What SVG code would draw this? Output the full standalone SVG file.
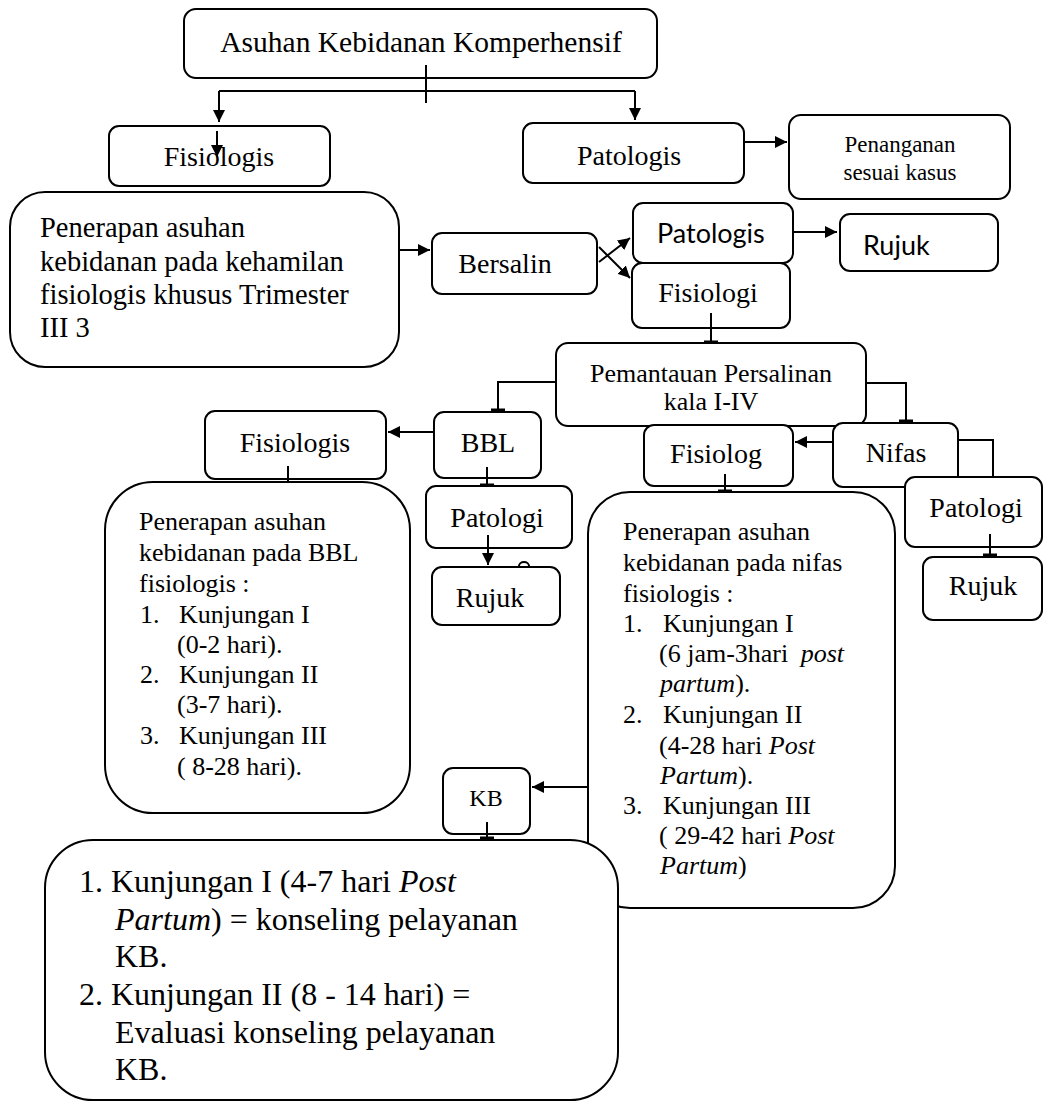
<svg xmlns="http://www.w3.org/2000/svg" width="1044" height="1102" viewBox="0 0 1044 1102">
<style>
.box{fill:#fff;stroke:#000;stroke-width:2}
.t{font-family:"Liberation Serif","Times New Roman",serif;fill:#000}
.s{font-family:Lato,"Liberation Sans",sans-serif;fill:#000}
.m{text-anchor:middle}
.c{fill:none;stroke:#000;stroke-width:2}
.i{font-style:italic}
.f28{font-size:28px}
.f26{font-size:26px}
.f32{font-size:32px}
</style>
<defs>
<marker id="arr" markerUnits="userSpaceOnUse" viewBox="0 0 12 12" markerWidth="12" markerHeight="12" refX="12" refY="6" orient="auto"><path d="M0 0 L12 6 L0 12 z" fill="#000"/></marker>
<marker id="tee" markerUnits="userSpaceOnUse" viewBox="-8 -8 16 16" markerWidth="16" markerHeight="16" refX="0" refY="0" orient="auto"><path d="M-1 -7 L-1 7" stroke="#000" stroke-width="3"/></marker>
</defs>

<g id="n-title"><rect class="box" x="184" y="9" width="473" height="69" rx="12"/><text class="t m" style="font-size:29.5px" x="421" y="52">Asuhan Kebidanan Komperhensif</text></g>
<g id="n-fisiologis"><rect class="box" x="109" y="126" width="221" height="60" rx="10"/><text class="t m f28" x="219" y="166">Fisiologis</text></g>
<g id="n-patologis"><rect class="box" x="523" y="123" width="221" height="60" rx="10"/><text class="t m f28" x="629" y="165">Patologis</text></g>
<g id="n-penanganan"><rect class="box" x="789" y="115" width="221" height="84" rx="12"/><text class="t m" style="font-size:23px" x="900" y="152">Penanganan</text><text class="t m" style="font-size:23px" x="900" y="180">sesuai kasus</text></g>
<g id="n-kehamilan"><rect class="box" x="10" y="192" width="389" height="175" rx="35"/>
<text class="t" style="font-size:28.5px" x="40" y="237">Penerapan asuhan</text>
<text class="t" style="font-size:28.5px" x="40" y="271">kebidanan pada kehamilan</text>
<text class="t" style="font-size:28.5px" x="40" y="304">fisiologis khusus Trimester</text>
<text class="t" style="font-size:28.5px" x="40" y="337">III 3</text></g>
<g id="n-bersalin"><rect class="box" x="432" y="233" width="165" height="61" rx="10"/><text class="t m f28" x="505" y="273">Bersalin</text></g>
<g id="n-patologis2"><rect class="box" x="633" y="203" width="160" height="60" rx="10"/><text class="s" style="font-size:27px" x="657" y="243">Patologis</text></g>
<g id="n-rujuk1"><rect class="box" x="840" y="214" width="158" height="57" rx="10"/><text class="s" style="font-size:27px" x="863" y="255">Rujuk</text></g>
<g id="n-fisiologi"><rect class="box" x="632" y="263" width="158" height="65" rx="10"/><text class="t m f28" x="708" y="302">Fisiologi</text></g>
<g id="n-pemantauan"><rect class="box" x="556" y="343" width="310" height="83" rx="12"/><text class="t m f26" x="711" y="382">Pemantauan Persalinan</text><text class="t m f26" x="711" y="410">kala I-IV</text></g>
<g id="n-bbl-fisiologis"><rect class="box" x="205" y="411" width="181" height="68" rx="10"/><text class="t m f28" x="295" y="452">Fisiologis</text></g>
<g id="n-bbl"><rect class="box" x="434" y="412" width="107" height="66" rx="10"/><text class="t m f28" x="488" y="452">BBL</text></g>
<g id="n-bbl-text"><rect class="box" x="105" y="482" width="305" height="331" rx="48"/>
<text class="t f26" x="139" y="530">Penerapan asuhan</text>
<text class="t f26" x="139" y="561">kebidanan pada BBL</text>
<text class="t f26" x="139" y="592">fisiologis :</text>
<text class="t f26" x="140" y="623">1.</text><text class="t f26" x="179" y="623">Kunjungan I</text>
<text class="t f26" x="177" y="653">(0-2 hari).</text>
<text class="t f26" x="140" y="683">2.</text><text class="t f26" x="179" y="683">Kunjungan II</text>
<text class="t f26" x="177" y="713">(3-7 hari).</text>
<text class="t f26" x="140" y="744">3.</text><text class="t f26" x="179" y="744">Kunjungan III</text>
<text class="t f26" x="177" y="775">( 8-28 hari).</text></g>
<g id="n-bbl-patologi"><ellipse cx="524" cy="566" rx="5" ry="4" fill="none" stroke="#000" stroke-width="2"/><rect class="box" x="426" y="486" width="146" height="62" rx="10"/><text class="t m f28" x="497" y="527">Patologi</text></g>
<g id="n-bbl-rujuk"><rect class="box" x="432" y="567" width="128" height="58" rx="10"/><text class="t m f28" x="490" y="607">Rujuk</text></g>
<g id="n-nifas"><rect class="box" x="833" y="423" width="125" height="64" rx="10"/><text class="t m f28" x="896" y="462">Nifas</text></g>
<g id="n-fisiolog"><rect class="box" x="644" y="425" width="149" height="61" rx="10"/><text class="t m f28" x="716" y="463">Fisiolog</text></g>
<g id="n-nifas-patologi"><rect class="box" x="905" y="477" width="137" height="70" rx="10"/><text class="t m f28" x="976" y="517">Patologi</text></g>
<g id="n-nifas-rujuk"><rect class="box" x="923" y="557" width="119" height="63" rx="10"/><text class="t m f28" x="983" y="595">Rujuk</text></g>
<g id="n-nifas-text"><rect class="box" x="588" y="492" width="307" height="416" rx="42"/>
<text class="t f26" x="623" y="540">Penerapan asuhan</text>
<text class="t f26" x="623" y="571">kebidanan pada nifas</text>
<text class="t f26" x="623" y="602">fisiologis :</text>
<text class="t f26" x="623" y="632">1.</text><text class="t f26" x="663" y="632">Kunjungan I</text>
<text class="t f26" x="659" y="662">(6 jam-3hari <tspan class="i" dx="6">post</tspan></text>
<text class="t f26" x="660" y="692"><tspan class="i">partum</tspan>).</text>
<text class="t f26" x="623" y="723">2.</text><text class="t f26" x="663" y="723">Kunjungan II</text>
<text class="t f26" x="659" y="754">(4-28 hari <tspan class="i">Post</tspan></text>
<text class="t f26" x="660" y="784"><tspan class="i">Partum</tspan>).</text>
<text class="t f26" x="623" y="814">3.</text><text class="t f26" x="663" y="814">Kunjungan III</text>
<text class="t f26" x="659" y="844">( 29-42 hari <tspan class="i">Post</tspan></text>
<text class="t f26" x="660" y="874"><tspan class="i">Partum</tspan>)</text></g>
<g id="n-kb"><rect class="box" x="443" y="768" width="87" height="66" rx="10"/><text class="t m" style="font-size:24px" x="486" y="806">KB</text></g>
<g id="n-kb-text"><rect class="box" x="45" y="840" width="573" height="260" rx="48"/>
<text class="t f32" x="79" y="892">1. Kunjungan I (4-7 hari <tspan class="i">Post</tspan></text>
<text class="t f32" x="115" y="930"><tspan class="i">Partum</tspan>) = konseling pelayanan</text>
<text class="t f32" x="115" y="967">KB.</text>
<text class="t f32" x="79" y="1005">2. Kunjungan II (8 - 14 hari) =</text>
<text class="t f32" x="115" y="1043">Evaluasi konseling pelayanan</text>
<text class="t f32" x="115" y="1080">KB.</text></g>

<g id="connectors">
<path class="c" d="M426 65 V103"/>
<path class="c" d="M219 91 H635"/>
<path class="c" d="M219 91 V122" marker-end="url(#arr)"/>
<path class="c" d="M635 91 V120" marker-end="url(#arr)"/>
<path class="c" d="M217 131 V157" marker-end="url(#arr)"/>
<path class="c" d="M744 142 H787" marker-end="url(#arr)"/>
<path class="c" d="M399 250 H430" marker-end="url(#arr)"/>
<path class="c" d="M599 262 L630 238" marker-end="url(#arr)"/>
<path class="c" d="M599 247 L630 278" marker-end="url(#arr)"/>
<path class="c" d="M793 232 H837" marker-end="url(#arr)"/>
<path class="c" d="M711 313 V343" marker-end="url(#tee)"/>
<path class="c" d="M556 382 H498 V411" marker-end="url(#tee)"/>
<path class="c" d="M866 383 H906 V422" marker-end="url(#tee)"/>
<path class="c" d="M433 432 H388" marker-end="url(#arr)"/>
<path class="c" d="M288 466 V482"/>
<path class="c" d="M487 467 V486" marker-end="url(#tee)"/>
<path class="c" d="M488 535 V565" marker-end="url(#arr)"/>
<path class="c" d="M833 442 H795" marker-end="url(#arr)"/>
<path class="c" d="M725 474 V492" marker-end="url(#tee)"/>
<path class="c" d="M958 440 H993 V477"/>
<path class="c" d="M990 534 V556" marker-end="url(#tee)"/>
<path class="c" d="M589 787 H532" marker-end="url(#arr)"/>
<path class="c" d="M487 822 V839" marker-end="url(#tee)"/>
</g>
</svg>
